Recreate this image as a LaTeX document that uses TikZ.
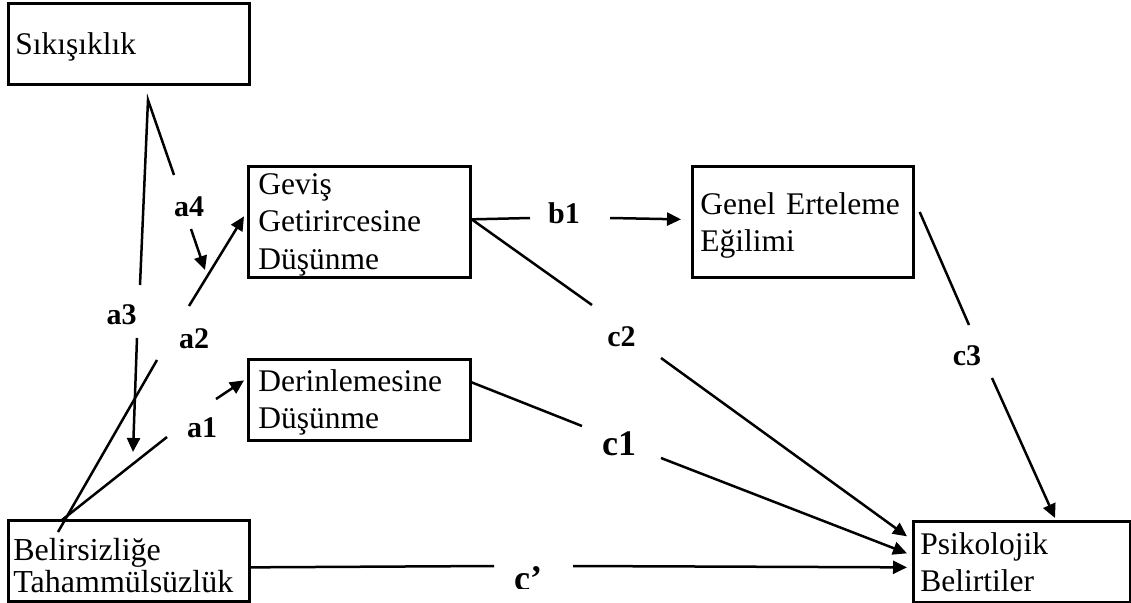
\documentclass[tikz,border=0pt]{standalone}
\usepackage{fontspec}
\setmainfont{Liberation Serif}
\usetikzlibrary{arrows.meta,calc}
\begin{document}
\begin{tikzpicture}[x=1pt,y=-1pt,
  box/.style={draw, line width=2.7pt, align=left, anchor=north west, inner ysep=0pt},
  lab/.style={anchor=base, inner sep=0pt, font=\bfseries\fontsize{30}{36}\selectfont},
  biglab/.style={anchor=base, inner sep=0pt, font=\bfseries\fontsize{36}{40}\selectfont},
  conn/.style={line width=2.5pt},
  arr/.style={conn, -{Triangle[length=14pt,width=13pt]}},
]
\useasboundingbox[fill=white] (0,0) rectangle (1131,602);

% boxes
\node[box, inner xsep=7pt, text width=227pt, text height=51pt, text depth=30pt,
      font=\fontsize{31.5}{37}\selectfont] (sik) at (7,2) {Sıkışıklık};
\node[box, inner xsep=10pt, text width=202pt, text height=28pt, text depth=83pt,
      font=\fontsize{31.5}{37.5}\selectfont] (ger) at (247,165) {Geviş\\Getirircesine\\Düşünme};
\node[box, inner xsep=8pt, text width=205pt, text height=48pt, text depth=63pt,
      font=\fontsize{31.5}{37}\selectfont] (gen) at (691,165) {Genel Erteleme\\Eğilimi};
\node[box, inner xsep=10pt, text width=202pt, text height=32pt, text depth=49pt,
      font=\fontsize{31.5}{37}\selectfont] (der) at (247,358) {Derinlemesine\\Düşünme};
\node[box, inner xsep=5pt, text width=231pt, text height=40pt, text depth=41pt,
      font=\fontsize{32}{32}\selectfont] (bel) at (7,519) {Belirsizliğe\\Tahammülsüzlük};
\node[box, inner xsep=7pt, text width=203pt, text height=33pt, text depth=48pt,
      font=\fontsize{31.5}{37}\selectfont] (psi) at (912,520) {Psikolojik\\Belirtiler};

% labels
\node[lab] (la4) at (189,216) {a4};
\node[lab] (la3) at (121.5,324) {a3};
\node[lab] (la2) at (194,348) {a2};
\node[lab] (la1) at (202,437) {a1};
\node[lab] (lb1) at (564,223) {b1};
\node[lab] (lc2) at (621.5,346) {c2};
\node[biglab] (lc1) at (619,455) {c1};
\node[lab] (lc3) at (967,365) {c3};
\begin{scope}
  \clip (400,540) rectangle (700,588);
  \node[biglab] (lcp) at (528,590) {c’};
\end{scope}

% connector end points
\coordinate (apex) at (148,100);
\coordinate (a3s) at (140,285);
\coordinate (a4s) at (174,175);
\coordinate (a3b) at (137,338);
\coordinate (a3t) at (133,452);
\coordinate (a4b) at (191,229);
\coordinate (a4t) at (205,270);
\coordinate (a2o) at ($(bel.north west)+(51,13)$);
\coordinate (a2e) at (157,360);
\coordinate (a2b) at (189,306);
\coordinate (a2t) at ($(ger.west)+(-3,-5.5)$);
\coordinate (a1o) at ($(bel.north west)+(55,1)$);
\coordinate (a1e) at (167,437);
\coordinate (a1b) at (216,399);
\coordinate (a1t) at ($(der.west)+(-3,-19.5)$);
\coordinate (gerE) at ($(ger.east)+(0,-2.5)$);
\coordinate (b1e) at (530,218);
\coordinate (b1b) at (610,218);
\coordinate (b1t) at ($(gen.west)+(-10,-2.5)$);
\coordinate (c2e) at (592,305);
\coordinate (c2b) at (661,358);
\coordinate (c2t) at ($(psi.west)+(-5,-25.5)$);
\coordinate (derE) at ($(der.east)+(0,-17.5)$);
\coordinate (c1e) at (582,426);
\coordinate (c1b) at (661,458);
\coordinate (c1t) at ($(psi.west)+(-5,-8.5)$);
\coordinate (belE) at ($(bel.east)+(0,6.5)$);
\coordinate (cpe) at (494,566);
\coordinate (cpb) at (573,566);
\coordinate (cpt) at ($(psi.west)+(-5,5.5)$);
\coordinate (genE) at ($(gen.north east)+(5,47)$);
\coordinate (c3e) at (969,325);
\coordinate (c3b) at (992,378);
\coordinate (c3t) at ($(psi.north west)+(143,-2)$);

% connectors
\draw[conn, line join=miter] (a3s) -- (apex) -- (a4s);
\draw[arr] (a3b) -- (a3t);
\draw[arr] (a4b) -- (a4t);
\draw[conn] (a2o) -- (a2e);
\draw[arr] (a2b) -- (a2t);
\draw[conn] (a1o) -- (a1e);
\draw[arr] (a1b) -- (a1t);
\draw[conn] (gerE) -- (b1e);
\draw[arr] (b1b) -- (b1t);
\draw[conn] (gerE) -- (c2e);
\draw[arr] (c2b) -- (c2t);
\draw[conn] (derE) -- (c1e);
\draw[arr] (c1b) -- (c1t);
\draw[conn] (belE) -- (cpe);
\draw[arr] (cpb) -- (cpt);
\draw[conn] (genE) -- (c3e);
\draw[arr] (c3b) -- (c3t);
\end{tikzpicture}
\end{document}
